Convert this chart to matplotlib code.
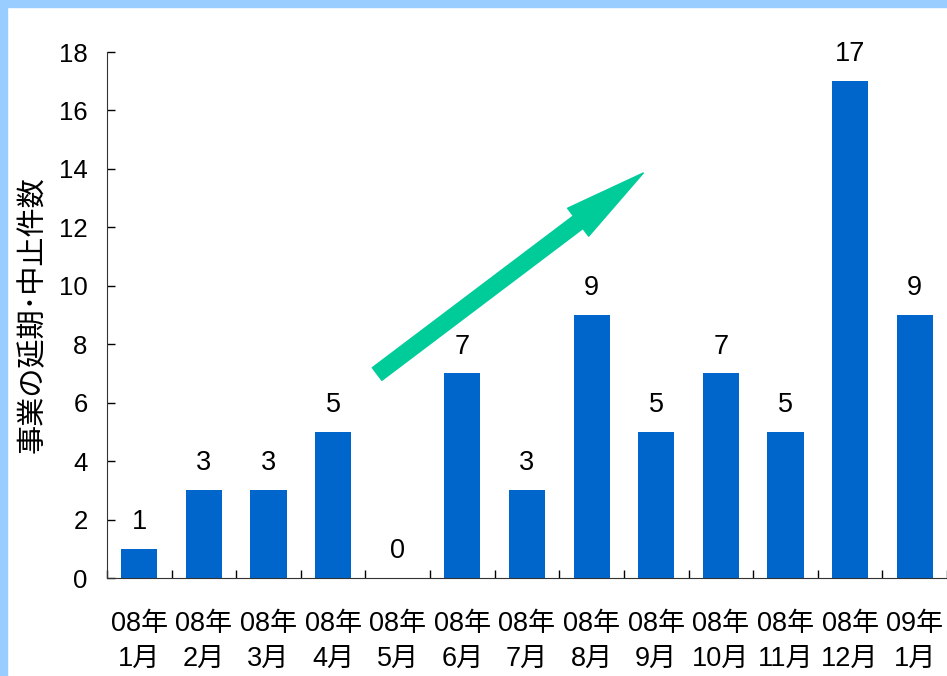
import matplotlib.pyplot as plt
from matplotlib.patches import Rectangle

plt.rcParams['font.family'] = ['Liberation Sans', 'Noto Sans CJK JP', 'DejaVu Sans']

# data
months = ["08年\n1月", "08年\n2月", "08年\n3月", "08年\n4月", "08年\n5月", "08年\n6月",
          "08年\n7月", "08年\n8月", "08年\n9月", "08年\n10月", "08年\n11月", "08年\n12月",
          "09年\n1月"]
counts = [1, 3, 3, 5, 0, 7, 3, 9, 5, 7, 5, 17, 9]
y_ticks = [0, 2, 4, 6, 8, 10, 12, 14, 16, 18]
y_label = "事業の延期･中止件数"

fig = plt.figure(figsize=(9.47, 6.76), dpi=100)
# light blue frame along top and left
fig.patches.append(Rectangle((0, 1 - 7 / 676), 1, 7 / 676, transform=fig.transFigure,
                             color="#99CCFF", zorder=0))
fig.patches.append(Rectangle((0, 0), 7 / 947, 1, transform=fig.transFigure,
                             color="#99CCFF", zorder=0))

ax = fig.add_axes([107 / 947, 98 / 676, 840 / 947, 526 / 676])
x = list(range(len(months)))
bars = ax.bar(x, counts, width=0.56, color="#0066CC", zorder=2)

for xi, c in zip(x, counts):
    ax.annotate(str(c), (xi, c), xytext=(0, 10), textcoords="offset points",
                ha="center", va="bottom", fontsize=19.5)

ax.set_xlim(-0.5, len(months) - 0.5)
ax.set_ylim(0, 18)
ax.set_yticks(y_ticks)
ax.set_xticks(x)
ax.set_xticklabels(months, fontsize=19.5, linespacing=1.45)
ax.set_xticks([i - 0.5 for i in range(len(months) + 1)], minor=True)
ax.tick_params(axis="x", which="major", length=0, pad=24)
ax.tick_params(axis="x", which="minor", direction="in", length=6, width=1)
ax.tick_params(axis="y", direction="in", length=6, width=1, labelsize=18.5, pad=14)
for s in ("top", "right"):
    ax.spines[s].set_visible(False)
ax.spines["left"].set_color("#333333")
ax.spines["bottom"].set_color("#333333")
ax.set_ylabel(y_label, fontsize=21, family=['Noto Sans CJK JP'], labelpad=8)

# rising trend arrow
ax.annotate("", xy=(7.80, 13.86), xytext=(3.68, 6.98),
            arrowprops=dict(arrowstyle="simple,head_length=4.9,head_width=2.1,tail_width=0.95",
                            color="#00CC99", mutation_scale=12, shrinkA=0, shrinkB=0),
            zorder=3)

fig.savefig("out.png", dpi=100)
